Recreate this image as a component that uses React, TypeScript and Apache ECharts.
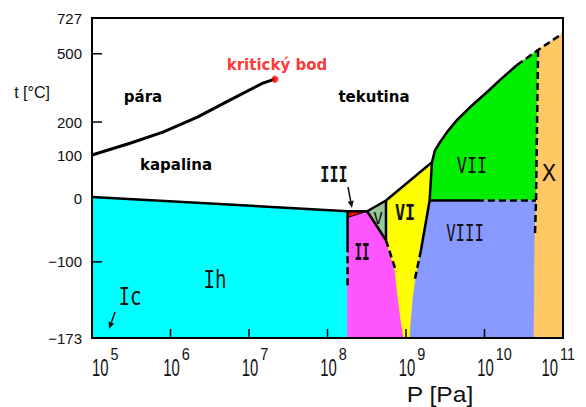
import { useEffect, useRef } from "react";
import * as echarts from "echarts";

type Pt = [number, number];

// temperatures are stored in °C; the vertical axis is logarithmic in kelvin
const KELVIN = 273;

// axis furniture
const xDecades = [5, 6, 7, 8, 9, 10, 11];
const xTickDecades = [6, 7, 8, 9, 10];
const yLabels = [727, 500, 200, 100, 0, -100, -173];
const yTicks = [500, 200, -100];

// [pressure Pa, temperature °C]
const boilingCurve: Pt[] = [
  [1e5, 100], [3.05e5, 133], [8.0e5, 167], [2.2e6, 217], [5.7e6, 281], [1.5e7, 353], [2.14e7, 371],
];
const criticalPoint: Pt = [2.14e7, 371];

const meltingCurve: Pt[] = [
  [1e5, 3], [1.8e8, -24], [3.2e8, -24], [5.56e8, -4], [2.14e9, 81], [2.34e9, 113], [2.71e9, 136],
  [3.33e9, 167], [4.46e9, 207], [6.53e9, 253], [1.08e10, 314], [1.67e10, 376], [2.59e10, 440],
];
const meltingHighP: Pt[] = [[2.59e10, 440], [4.81e10, 521], [1e11, 624]];

const ihIISolid: Pt[] = [[1.8e8, -24], [1.8e8, -78]];
const ihIIDashed: Pt[] = [[1.8e8, -78], [1.8e8, -130]];
const iiiII: Pt[] = [[1.8e8, -35], [3.2e8, -24]];
const vII: Pt[] = [[3.2e8, -24], [5.56e8, -71]];
const vVI: Pt[] = [[5.56e8, -4], [5.56e8, -71]];
const iiVIDashed: Pt[] = [[5.56e8, -71], [7.5e8, -112]];
const viVII: Pt[] = [[2.14e9, 81], [2.0e9, -4]];
const viVIIISolid: Pt[] = [[2.0e9, -4], [1.55e9, -85]];
const viVIIIDashed: Pt[] = [[1.55e9, -85], [1.3e9, -120]];
const viiVIIISolid: Pt[] = [[2.0e9, -4], [8.0e9, -4]];
const viiVIIIDashed: Pt[] = [[8.0e9, -4], [4.53e10, -4]];
const xBoundaryDashed: Pt[] = [[4.81e10, 521], [4.53e10, -4], [4.4e10, -61]];

// phase regions
const iceIh: Pt[] = [[1e5, 3], [1.8e8, -24], [1.8e8, -173], [1e5, -173]];
const iceIII: Pt[] = [[1.8e8, -24], [3.2e8, -24], [1.8e8, -35]];
const iceII: Pt[] = [
  [1.8e8, -35], [3.2e8, -24], [5.56e8, -71], [7.24e8, -110], [7.9e8, -139], [8.63e8, -160],
  [9.4e8, -173], [1.8e8, -173],
];
const iceV: Pt[] = [[3.2e8, -24], [5.56e8, -4], [5.56e8, -71]];
const iceVI: Pt[] = [
  [5.56e8, -4], [2.14e9, 81], [2.0e9, -4], [1.55e9, -85], [1.34e9, -118], [1.23e9, -139],
  [1.16e9, -160], [1.12e9, -173], [9.4e8, -173], [8.63e8, -160], [7.9e8, -139], [7.24e8, -110],
  [5.56e8, -71],
];
const iceVII: Pt[] = [
  [2.14e9, 81], [2.34e9, 113], [2.71e9, 136], [3.33e9, 167], [4.46e9, 207], [6.53e9, 253],
  [1.08e10, 314], [1.67e10, 376], [2.59e10, 440], [4.81e10, 521], [4.53e10, -4], [2.0e9, -4],
];
const iceVIII: Pt[] = [
  [2.0e9, -4], [4.53e10, -4], [4.4e10, -61], [4.27e10, -173], [1.12e9, -173], [1.16e9, -160],
  [1.23e9, -139], [1.34e9, -118], [1.55e9, -85],
];
const iceX: Pt[] = [[4.81e10, 521], [1e11, 624], [1e11, -173], [4.27e10, -173], [4.4e10, -61], [4.53e10, -4]];

const phases = [
  { pts: iceIh, fill: "#00FFFF" },
  { pts: iceII, fill: "#FF55FF" },
  { pts: iceIII, fill: "#FF0000" },
  { pts: iceV, fill: "#99C799" },
  { pts: iceVI, fill: "#FFFF00" },
  { pts: iceVII, fill: "#00EE00" },
  { pts: iceVIII, fill: "#8899FF" },
  { pts: iceX, fill: "#FFC864" },
];

const toK = (pts: Pt[]) => pts.map(([p, t]) => [p, t + KELVIN]);

const SANS = "'Liberation Sans', Arial, sans-serif";
const BOLD = "'DejaVu Sans', Verdana, sans-serif";
const MONO = "'DejaVu Sans Mono', 'Liberation Mono', monospace";

const CANVAS_W = 586;
const PLOT_LEFT = 92;

function boundary(pts: Pt[], dashed: boolean, width = 2.5) {
  return {
    type: "line",
    data: toK(pts),
    symbol: "none",
    showSymbol: false,
    silent: true,
    z: 4,
    lineStyle: { color: "#000", width, type: dashed ? [7, 4] : "solid", cap: "butt", join: "round" },
  };
}

function txt(x: number, y: number, text: string, opts: any = {}) {
  return {
    type: "text",
    x,
    y,
    scaleX: opts.scaleX ?? 1,
    z: 10,
    silent: true,
    style: {
      text,
      fill: opts.fill ?? "#111",
      fontSize: opts.size ?? 15,
      fontFamily: opts.family ?? MONO,
      fontWeight: opts.weight ?? "normal",
      align: "center",
      verticalAlign: "middle",
      textAlign: "center",
      textVerticalAlign: "middle",
    },
  };
}

function arrow(x1: number, y1: number, x2: number, y2: number) {
  const a = Math.atan2(y2 - y1, x2 - x1);
  const L = 7;
  const W = 3;
  const bx = x2 - L * Math.cos(a);
  const by = y2 - L * Math.sin(a);
  const nx = -Math.sin(a) * W;
  const ny = Math.cos(a) * W;
  return [
    { type: "line", z: 10, silent: true, shape: { x1, y1, x2: bx, y2: by }, style: { stroke: "#111", lineWidth: 1.5 } },
    {
      type: "polygon",
      z: 10,
      silent: true,
      shape: { points: [[x2, y2], [bx + nx, by + ny], [bx - nx, by - ny]] },
      style: { fill: "#111" },
    },
  ];
}

export default function App() {
  const ref = useRef<HTMLDivElement>(null);

  useEffect(() => {
    document.body.style.margin = "0";
    if (!ref.current) return;
    const chart = echarts.init(ref.current, undefined, { renderer: "svg" });

    const fmtT = (t: number) => (t < 0 ? "\u2212" + Math.abs(t) : String(t));

    chart.setOption({
      animation: false,
      backgroundColor: "#fff",
      grid: { left: PLOT_LEFT, top: 18, right: 23, bottom: 69 },
      xAxis: {
        type: "log",
        logBase: 10,
        min: 1e5,
        max: 1e11,
        axisLine: { show: false },
        axisTick: { show: false },
        axisLabel: { show: false },
        splitLine: { show: false },
      },
      yAxis: {
        type: "log",
        logBase: 10,
        min: 100,
        max: 1000,
        axisLine: { show: false },
        axisTick: { show: false },
        axisLabel: { show: false },
        splitLine: { show: false },
      },
      series: [
        {
          type: "custom",
          silent: true,
          clip: false,
          z: 2,
          data: phases.map((ph) => [ph.pts[0][0], ph.pts[0][1] + KELVIN]),
          renderItem: (params: any, api: any) => {
            const ph = phases[params.dataIndex];
            return {
              type: "polygon",
              shape: { points: ph.pts.map(([p, t]) => api.coord([p, t + KELVIN])) },
              style: { fill: ph.fill, stroke: ph.fill, lineWidth: 0.6 },
            };
          },
        },
        boundary(boilingCurve, false, 3),
        boundary(meltingCurve, false),
        boundary(meltingHighP, true),
        boundary(ihIISolid, false),
        boundary(ihIIDashed, true),
        boundary(iiiII, false, 1),
        boundary(vII, false),
        boundary(vVI, false),
        boundary(iiVIDashed, true),
        boundary(viVII, false),
        boundary(viVIIISolid, false),
        boundary(viVIIIDashed, true),
        boundary(viiVIIISolid, false),
        boundary(viiVIIIDashed, true),
        boundary(xBoundaryDashed, true),
        {
          type: "scatter",
          silent: true,
          z: 6,
          symbolSize: 7,
          data: [[criticalPoint[0], criticalPoint[1] + KELVIN]],
          itemStyle: { color: "#FF0000" },
          label: {
            show: true,
            formatter: "kritický bod",
            position: "top",
            distance: 3,
            offset: [2, 0],
            color: "#FF0000",
            fontFamily: BOLD,
            fontWeight: "bold",
            fontSize: 15,
          },
        },
        // plot frame
        {
          type: "custom",
          silent: true,
          clip: false,
          z: 8,
          data: [[1e5, 100]],
          renderItem: (_p: any, api: any) => {
            const a = api.coord([1e5, 100]);
            const b = api.coord([1e11, 1000]);
            return {
              type: "rect",
              shape: { x: a[0], y: b[1], width: b[0] - a[0], height: a[1] - b[1] },
              style: { fill: "none", stroke: "#000", lineWidth: 2 },
            };
          },
        },
        // pressure axis: ticks and 10^n labels
        {
          type: "custom",
          silent: true,
          clip: false,
          z: 8,
          data: xDecades.map((e) => [Math.pow(10, e), 100, e]),
          renderItem: (_p: any, api: any) => {
            const e = api.value(2);
            const pt = api.coord([api.value(0), api.value(1)]);
            const children: any[] = [];
            if (xTickDecades.includes(e)) {
              children.push({
                type: "line",
                shape: { x1: pt[0], y1: pt[1], x2: pt[0], y2: pt[1] - 9 },
                style: { stroke: "#000", lineWidth: 1.5 },
              });
            }
            const baseScale = 0.62;
            const expScale = 0.85;
            const half = 0.556 * 24 * baseScale;
            const expW = String(e).length * 0.556 * 17 * expScale;
            // keep the whole label inside the plot's horizontal span / canvas
            let cx = pt[0] + 1;
            if (cx - half < PLOT_LEFT) cx = PLOT_LEFT + half;
            const right = cx + half + 2 + expW;
            if (right > CANVAS_W - 10) cx -= right - (CANVAS_W - 10);
            children.push({
              type: "text",
              x: cx,
              y: pt[1] + 30,
              scaleX: baseScale,
              style: {
                text: "10",
                fill: "#111",
                fontSize: 24,
                fontFamily: SANS,
                align: "center",
                verticalAlign: "middle",
              },
            });
            children.push({
              type: "text",
              x: cx + half + 2,
              y: pt[1] + 16,
              scaleX: expScale,
              style: {
                text: String(e),
                fill: "#111",
                fontSize: 17,
                fontFamily: SANS,
                align: "left",
                verticalAlign: "middle",
              },
            });
            return { type: "group", children };
          },
        },
        // temperature axis: ticks and °C labels
        {
          type: "custom",
          silent: true,
          clip: false,
          z: 8,
          data: yLabels.map((t) => [1e5, t + KELVIN, t]),
          renderItem: (_p: any, api: any) => {
            const t = api.value(2);
            const pt = api.coord([api.value(0), api.value(1)]);
            const children: any[] = [];
            if (yTicks.includes(t)) {
              children.push({
                type: "line",
                shape: { x1: pt[0], y1: pt[1], x2: pt[0] + 10, y2: pt[1] },
                style: { stroke: "#000", lineWidth: 1.5 },
              });
            }
            children.push({
              type: "text",
              x: pt[0] - 10,
              y: pt[1],
              style: {
                text: fmtT(t),
                fill: "#111",
                fontSize: 15,
                fontFamily: SANS,
                align: "right",
                verticalAlign: "middle",
              },
            });
            return { type: "group", children };
          },
        },
      ],
      graphic: [
        txt(32, 92, "t [°C]", { family: SANS, size: 16 }),
        txt(440, 394, "P [Pa]", { family: SANS, size: 22, scaleX: 1.12 }),
        txt(143, 97, "pára", { family: BOLD, weight: "bold", size: 15, fill: "#000" }),
        txt(176, 165, "kapalina", { family: BOLD, weight: "bold", size: 15, fill: "#000" }),
        txt(374, 97, "tekutina", { family: BOLD, weight: "bold", size: 15, fill: "#000" }),
        txt(334, 175, "III", { size: 21, scaleX: 0.72, weight: "bold" }),
        txt(362, 252, "II", { size: 23, scaleX: 0.55, weight: "bold" }),
        txt(378, 218, "V", { size: 16 }),
        txt(405, 212, "VI", { size: 21, scaleX: 0.8, weight: "bold" }),
        txt(472, 165, "VII", { size: 21, scaleX: 0.8 }),
        txt(465, 233, "VIII", { size: 23, scaleX: 0.68 }),
        txt(549, 173, "X", { size: 23 }),
        txt(215, 280, "Ih", { size: 24, scaleX: 0.8 }),
        txt(130, 297, "Ic", { size: 24, scaleX: 0.8 }),
        ...arrow(348, 187, 352, 208),
        ...arrow(115, 312, 109, 329),
      ],
    });

    return () => chart.dispose();
  }, []);

  return <div ref={ref} style={{ width: 586, height: 407 }} />;
}
